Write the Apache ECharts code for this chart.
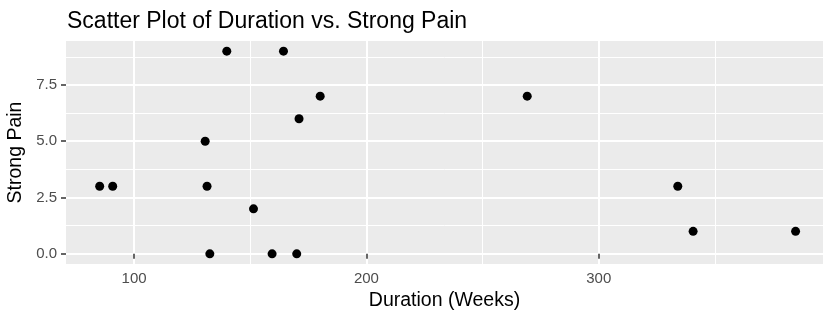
<!DOCTYPE html>
<html>
<head>
<meta charset="utf-8">
<script src="https://cdn.jsdelivr.net/npm/echarts@6/dist/echarts.min.js"></script>
<style>html,body{margin:0;padding:0;background:#fff}#c{width:823px;height:313px}</style>
</head>
<body>
<div id="c"></div>
<script>
var durations = [85.2, 90.8, 131.4, 151.4, 132.6, 159.4, 170.0, 139.9, 164.3, 180.1, 171.0, 130.6, 269.2, 334.0, 340.6, 384.7];
var pains = [3, 3, 3, 2, 0, 0, 0, 9, 9, 7, 6, 5, 7, 3, 1, 1];
var xTicks = [100, 200, 300];
var xMinor = [150, 250, 350];
var yTicks = [0, 2.5, 5, 7.5];
var yMinor = [1.25, 3.75, 6.25, 8.75];

var FONT = 'Liberation Sans, Arial, sans-serif';
var points = durations.map(function (d, i) { return [d, pains[i]]; });
var xMin = 70.7, xMax = 396.5, yMin = -0.45, yMax = 9.45;

var chart = echarts.init(document.getElementById('c'), null, {renderer: 'canvas'});
chart.setOption({
  animation: false,
  backgroundColor: '#ffffff',
  textStyle: {fontFamily: FONT},
  title: {
    text: 'Scatter Plot of Duration vs. Strong Pain',
    left: 62, top: 5,
    textStyle: {fontFamily: FONT, fontSize: 23, fontWeight: 'normal', color: '#000000'}
  },
  grid: {left: 66, right: 0, top: 41, bottom: 49, show: true, backgroundColor: '#EBEBEB', borderWidth: 0,
    containLabel: false, outerBoundsMode: 'none'},
  xAxis: [{
    type: 'value', min: xMin, max: xMax,
    name: 'Duration (Weeks)', nameLocation: 'middle', nameGap: 25,
    nameTextStyle: {fontFamily: FONT, fontSize: 19.5, color: '#000000', verticalAlign: 'top'},
    axisLine: {show: false},
    axisTick: {show: true, customValues: xTicks, length: 5, lineStyle: {color: '#333333', width: 1.5}},
    axisLabel: {show: true, customValues: xTicks, fontSize: 15, color: '#4D4D4D', margin: 7, fontFamily: FONT},
    splitLine: {show: true, lineStyle: {color: '#ffffff', width: 2}}
  }, {
    type: 'value', min: xMin, max: xMax, position: 'top',
    axisLine: {show: false},
    axisTick: {show: false, customValues: xMinor},
    axisLabel: {show: false, customValues: xMinor},
    splitLine: {show: true, lineStyle: {color: '#ffffff', width: 1}}
  }],
  yAxis: [{
    type: 'value', min: yMin, max: yMax,
    name: 'Strong Pain', nameLocation: 'middle', nameGap: 37, nameRotate: 90,
    nameTextStyle: {fontFamily: FONT, fontSize: 19.5, color: '#000000'},
    axisLine: {show: false},
    axisTick: {show: true, customValues: yTicks, length: 5, lineStyle: {color: '#333333', width: 1.5}},
    axisLabel: {show: true, customValues: yTicks, fontSize: 15, color: '#4D4D4D', margin: 9, fontFamily: FONT,
      formatter: function (v) { return Number(v).toFixed(1); }},
    splitLine: {show: true, lineStyle: {color: '#ffffff', width: 2}}
  }, {
    type: 'value', min: yMin, max: yMax, position: 'right',
    axisLine: {show: false},
    axisTick: {show: false, customValues: yMinor},
    axisLabel: {show: false, customValues: yMinor},
    splitLine: {show: true, lineStyle: {color: '#ffffff', width: 1}}
  }],
  series: [{
    type: 'scatter', xAxisIndex: 0, yAxisIndex: 0,
    data: points, symbol: 'circle', symbolSize: 9,
    itemStyle: {color: '#000000', opacity: 1}
  }]
});
</script>
</body>
</html>
